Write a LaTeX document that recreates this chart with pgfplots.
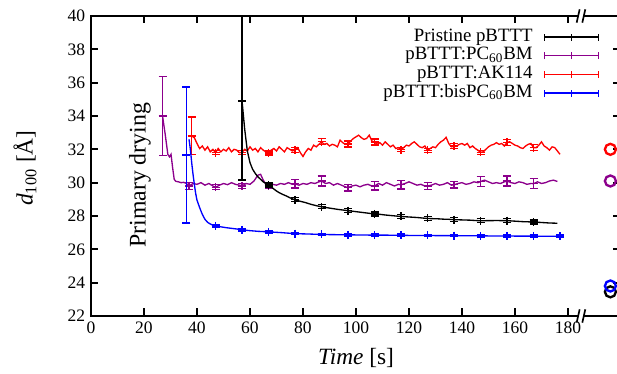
\documentclass[border=0pt]{standalone}
\usepackage{pgfplots}
\pgfplotsset{compat=1.18}
\usepackage{fontspec}
\setmainfont{Liberation Serif}
\definecolor{dpurple}{RGB}{140,0,140}
\definecolor{bred}{RGB}{255,0,0}
\definecolor{bblue}{RGB}{0,0,255}
\pgfplotsset{
  errglyph/.style={legend image code/.code={
    \draw[line width=0.7pt] (0pt,0pt) -- (32.4pt,0pt);
    \draw[line width=0.7pt] (0pt,-2.1pt) -- (0pt,2.1pt);
    \draw[line width=0.7pt] (16.2pt,-2.1pt) -- (16.2pt,2.1pt);
    \draw[line width=0.7pt] (32.4pt,-2.1pt) -- (32.4pt,2.1pt);
  }},
  ebar/.style={only marks, mark=+, mark size=2.4pt, line width=0.8pt, forget plot,
    error bars/y dir=both, error bars/y explicit,
    error bars/error mark options={rotate=90, mark size=2.4pt, line width=0.8pt},
    error bars/error bar style={line width=0.8pt}},
  dline/.style={no marks, line width=0.8pt, forget plot},
}
\begin{document}
\begin{tikzpicture}
\begin{axis}[name=ax, scale only axis, width=318pt, height=180pt,
  xmin=0, xmax=200, ymin=22, ymax=40,
  xtick={0,20,...,180}, ytick={22,24,...,40},
  tick align=inside, xtick pos=both, ytick pos=both,
  major tick length=4.5pt,
  axis line style={line width=1.3pt},
  every tick/.style={black, line width=1.2pt},
  tick label style={font=\fontsize{10.5}{12}\selectfont},
  /pgf/number format/assume math mode=true,
  xlabel={\textit{Time} [s]},
  ylabel={\textit{d}\textsubscript{100} [Å]},
  label style={font=\fontsize{14}{16}\selectfont},
  xlabel style={yshift=-2pt},
  ylabel style={at={(axis description cs:-0.1245,0.493)}, anchor=center},
  clip mode=individual,
  legend style={at={(0.958,0.961)}, anchor=north east, draw=none, fill=none,
    inner sep=0pt, outer sep=0pt,
    font=\fontsize{11.3}{13}\selectfont,
    nodes={inner sep=0pt, text height=8pt, text depth=3.2pt},
    column sep=6.6pt},
  legend cell align=right, legend plot pos=right,
]
\addlegendimage{black, errglyph}
\addlegendentry{Pristine pBTTT}
\addlegendimage{dpurple, errglyph}
\addlegendentry{pBTTT:PC\textsubscript{60}BM}
\addlegendimage{bred, errglyph}
\addlegendentry{pBTTT:AK114}
\addlegendimage{bblue, errglyph}
\addlegendentry{pBTTT:bisPC\textsubscript{60}BM}

% ---------- purple: pBTTT:PC60BM
\addplot[dpurple, dline] coordinates {
(27,34.0) (28,32.9) (29,31.7) (29.6,31.55) (30.2,31.7) (30.8,30.9) (31.4,30.2) (32,30.08) (33,30.05) (34,30.0) (35,30.02) (36,29.95)
(37,29.8) (38.5,29.95) (40,29.9) (41.5,30.0) (43,29.85) (44.5,29.95) (46,29.8) (47,29.72) (48.5,29.85) (50,29.95) (51.5,29.88)
(53,30.0) (54.5,29.9) (56,29.85) (57,29.8) (58.5,29.95) (60,29.9) (61.5,30.1) (63,30.45) (64,30.5) (65,30.15) (66,29.9) (67,29.8)
(68.5,29.9) (70,29.85) (71.5,29.95) (73,29.9) (74.5,30.0) (76,29.9) (77,29.93) (78.5,29.85) (80,29.95) (81.5,29.9) (83,30.0)
(84.5,29.95) (86,30.05) (87,30.1) (88.5,29.95) (90,30.0) (91.5,29.85) (93,29.95) (94.5,29.85) (96,29.75) (97,29.7) (98.5,29.8)
(100,29.85) (101.5,29.75) (103,29.85) (104.5,29.9) (106,29.8) (107,29.8) (108.5,29.95) (110,29.85) (111.5,30.0) (113,29.9)
(114.5,29.8) (116,29.9) (117,29.87) (118.5,29.95) (120,30.05) (121.5,29.95) (123,29.85) (124.5,29.9) (126,29.8) (127,29.8)
(128.5,29.85) (130,29.95) (131.5,29.85) (133,29.9) (134.5,30.0) (136,29.85) (137,29.87) (138.5,29.95) (140,30.0) (141.5,29.9)
(143,29.95) (144.5,30.05) (146,30.0) (147,30.07) (148.5,30.15) (150,30.05) (151.5,29.95) (153,30.0) (154.5,29.95) (156,30.05)
(157,30.1) (158.5,30.0) (160,29.95) (161.5,30.05) (163,30.0) (164.5,29.9) (166,29.95) (167,29.94) (168.5,30.05) (170,29.95)
(171.5,30.0) (173,30.1) (174.5,30.15) (176,30.07)
};
\addplot[dpurple, ebar] coordinates {
(27,34.0) +- (0,2.37) (37,29.8) +- (0,0.2) (47,29.72) +- (0,0.15) (57,29.8) +- (0,0.15) (67,29.8) +- (0,0.15)
(77,29.93) +- (0,0.25) (87,30.1) +- (0,0.3) (97,29.7) +- (0,0.2) (107,29.8) +- (0,0.25) (117,29.87) +- (0,0.25)
(127,29.8) +- (0,0.2) (137,29.87) +- (0,0.2) (147,30.07) +- (0,0.3) (157,30.1) +- (0,0.3) (167,29.94) +- (0,0.3)
};

% ---------- red: pBTTT:AK114
\addplot[bred, dline] coordinates {
(38,32.8) (39,32.7) (40,32.35) (41,32.05) (42,32.2) (43,31.95) (44,32.15) (45,31.85) (46,32.0) (47,31.8) (48,32.05) (49,31.85)
(50,32.0) (51,31.9) (52,32.1) (53,31.85) (54,32.0) (55,31.95) (56,31.8) (57,31.82) (58,32.0) (59,31.9) (60,32.15) (61,31.95)
(62,32.05) (63,31.85) (64,32.1) (65,31.95) (66,31.85) (67,31.78) (68,31.95) (69,32.05) (70,31.9) (71,32.15) (72,32.0) (73,31.85)
(74,32.1) (75,32.0) (76,31.9) (77,31.97) (78,32.1) (79,31.8) (80,31.57) (81,31.85) (82,32.05) (83,31.95) (84,32.25) (85,32.15)
(86,32.3) (87,32.45) (88,32.3) (89,32.35) (90,32.2) (91,32.3) (92,32.25) (93,32.15) (94,32.55) (95,32.4) (96,32.3) (97,32.32)
(98,32.5) (99,32.65) (100,32.75) (101,32.85) (102,32.7) (103,32.6) (104,32.65) (105,32.85) (106,32.5) (107,32.43) (108,32.3)
(109,32.4) (110,32.25) (111,32.45) (112,32.3) (113,32.15) (114,32.25) (115,32.05) (116,32.1) (117,31.97) (118,32.1) (119,32.25)
(120,32.2) (121,32.35) (122,32.45) (123,32.3) (124,32.15) (125,32.1) (126,32.2) (127,31.93) (128,32.05) (129,32.15) (130,32.1)
(131,32.3) (132,32.45) (133,32.55) (134,32.72) (135,32.35) (136,32.15) (137,32.2) (138,32.2) (139,32.3) (140,32.35) (141,32.25)
(142,32.35) (143,32.1) (144,32.2) (145,32.05) (146,31.95) (147,31.82) (148,31.85) (149,32.0) (150,32.15) (151,32.25) (152,32.3)
(153,32.4) (154,32.3) (155,32.35) (156,32.2) (157,32.42) (158,32.45) (159,32.35) (160,32.25) (161,32.2) (162,32.1) (163,32.05)
(164,32.2) (165,32.3) (166,32.35) (167,32.1) (168,32.1) (169,32.25) (170,32.45) (171,32.2) (172,32.1) (173,31.95) (174,32.15)
(175,32.1) (176,31.9) (177,31.7)
};
\addplot[bred, ebar] coordinates {
(38,32.8) +- (0,1.13) (47,31.8) +- (0,0.12) (57,31.82) +- (0,0.12) (67,31.78) +- (0,0.12) (77,31.97) +- (0,0.15)
(87,32.45) +- (0,0.18) (97,32.32) +- (0,0.18) (107,32.43) +- (0,0.18) (117,31.97) +- (0,0.12) (127,31.93) +- (0,0.12)
(137,32.2) +- (0,0.15) (147,31.82) +- (0,0.12) (157,32.42) +- (0,0.18) (167,32.1) +- (0,0.18)
};

% ---------- black: Pristine pBTTT
\addplot[black, dline] coordinates {
(57,34.9) (58,33.2) (59,31.9) (60,31.2) (61,30.8) (62,30.55) (63,30.35) (64,30.2) (65,30.05) (66,29.95) (67,29.85) (68,29.75)
(69,29.62) (70,29.5) (71,29.4) (72,29.32) (73,29.25) (74,29.18) (75,29.1) (76,29.03) (77,28.97) (79,28.88) (81,28.8) (83,28.7)
(85,28.62) (87,28.55) (89,28.5) (91,28.45) (93,28.4) (95,28.36) (97,28.32) (99,28.28) (101,28.24) (103,28.2) (105,28.16)
(107,28.12) (109,28.1) (111,28.06) (113,28.03) (115,28.0) (117,27.97) (119,27.95) (121,27.93) (123,27.91) (125,27.88) (127,27.85)
(129,27.84) (131,27.83) (133,27.81) (135,27.8) (137,27.78) (139,27.77) (141,27.76) (143,27.75) (145,27.73) (147,27.71) (149,27.72)
(151,27.72) (153,27.73) (155,27.72) (157,27.72) (159,27.7) (161,27.68) (163,27.66) (165,27.65) (167,27.63) (169,27.62) (171,27.6)
(173,27.58) (175,27.57) (176,27.56)
};
\addplot[black, ebar] coordinates {
(57,34.9) += (0,6) -= (0,4.75) (67,29.85) +- (0,0.12) (77,28.97) +- (0,0.12) (87,28.55) +- (0,0.12) (97,28.32) +- (0,0.12)
(107,28.12) +- (0,0.12) (117,27.97) +- (0,0.12) (127,27.85) +- (0,0.12) (137,27.78) +- (0,0.12) (147,27.71) +- (0,0.12)
(157,27.72) +- (0,0.12) (167,27.63) +- (0,0.12)
};

% ---------- blue: pBTTT:bisPC60BM
\addplot[bblue, dline] coordinates {
(37,32.6) (37.5,32.0) (38,31.2) (38.5,30.5) (39,29.9) (39.5,29.35) (40,28.95) (41,28.5) (42,28.1) (43,27.8) (44,27.62) (45,27.52)
(46,27.45) (47,27.4) (49,27.35) (51,27.3) (53,27.26) (55,27.22) (57,27.17) (60,27.12) (63,27.08) (67,27.05) (72,27.0) (77,26.94)
(82,26.92) (87,26.89) (92,26.88) (97,26.87) (102,26.86) (107,26.85) (112,26.85) (117,26.84) (122,26.83) (127,26.83) (132,26.82)
(137,26.82) (142,26.81) (147,26.81) (152,26.8) (157,26.8) (162,26.79) (167,26.79) (172,26.78) (177,26.78)
};
\addplot[bblue, ebar] coordinates {
(36,31.65) +- (0,4.08) (47,27.4) +- (0,0.07) (57,27.17) +- (0,0.07) (67,27.05) +- (0,0.07) (77,26.94) +- (0,0.07)
(87,26.89) +- (0,0.07) (97,26.87) +- (0,0.07) (107,26.85) +- (0,0.07) (117,26.84) +- (0,0.07) (127,26.83) +- (0,0.07)
(137,26.82) +- (0,0.07) (147,26.81) +- (0,0.07) (157,26.8) +- (0,0.07) (167,26.79) +- (0,0.07) (177,26.78) +- (0,0.07)
};

% ---------- final (dry film) values, right of the axis break
\addplot[only marks, mark=o, mark size=3.3pt, line width=1.4pt, bred, forget plot] coordinates {(196,32.0)};
\addplot[only marks, mark=o, mark size=3.3pt, line width=1.4pt, dpurple, forget plot] coordinates {(196,30.1)};
\addplot[only marks, mark=o, mark size=3.3pt, line width=1.4pt, black, forget plot] coordinates {(196,23.45)};
\addplot[only marks, mark=o, mark size=3.3pt, line width=1.4pt, bblue, forget plot] coordinates {(196,23.8)};

\node[rotate=90, font=\fontsize{14.3}{16}\selectfont] at (axis cs:18.5,30.44) {Primary drying};

% axis breaks
\fill[white] ([xshift=-1.6pt,yshift=-1.2pt]axis cs:184.9,22) rectangle ([xshift=1.6pt,yshift=1.2pt]axis cs:184.9,22);
\draw[line width=1pt] ([xshift=-2.6pt,yshift=-4pt]axis cs:184.9,22) -- ([xshift=-0.8pt,yshift=4pt]axis cs:184.9,22);
\draw[line width=1pt] ([xshift=0.8pt,yshift=-4pt]axis cs:184.9,22) -- ([xshift=2.6pt,yshift=4pt]axis cs:184.9,22);
\fill[white] ([xshift=-1.6pt,yshift=-1.2pt]axis cs:184.9,40) rectangle ([xshift=1.6pt,yshift=1.2pt]axis cs:184.9,40);
\draw[line width=1pt] ([xshift=-2.6pt,yshift=-4pt]axis cs:184.9,40) -- ([xshift=-0.8pt,yshift=4pt]axis cs:184.9,40);
\draw[line width=1pt] ([xshift=0.8pt,yshift=-4pt]axis cs:184.9,40) -- ([xshift=2.6pt,yshift=4pt]axis cs:184.9,40);
\end{axis}
\pgfresetboundingbox
\path[use as bounding box] ([xshift=-54.6pt,yshift=-34.8pt]ax.south west) rectangle ([xshift=315.6pt,yshift=9.6pt]ax.north west);
\end{tikzpicture}
\end{document}
